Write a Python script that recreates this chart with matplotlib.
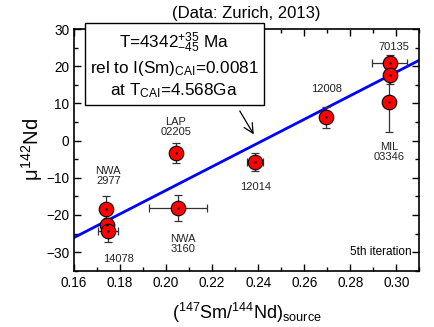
import matplotlib
matplotlib.use("Agg")
import matplotlib.pyplot as plt
from matplotlib.ticker import MultipleLocator
import numpy as np

plt.rcParams['font.family'] = ['Liberation Sans', 'DejaVu Sans']
plt.rcParams['mathtext.fontset'] = 'custom'
plt.rcParams['mathtext.rm'] = 'Liberation Sans'
plt.rcParams['mathtext.it'] = 'Liberation Sans'

# sample data
sm_nd = [0.2971, 0.2971, 0.2970, 0.2694, 0.2387, 0.2043, 0.2051, 0.1739, 0.1742, 0.1749]
sm_nd_err = [0.0075, 0.0, 0.0015, 0.0, 0.0035, 0.0, 0.0127, 0.0, 0.0, 0.0043]
mu142 = [20.8, 17.6, 10.4, 6.2, -5.7, -3.3, -18.1, -18.3, -22.8, -24.2]
mu142_err = [2.3, 2.5, 8.0, 2.8, 2.4, 2.7, 3.5, 3.3, 2.0, 3.2]

labels = ["70135", "12008", "LAP\n02205", "12014", "MIL\n03346",
          "NWA\n2977", "NWA\n3160", "14078"]
label_x = [0.2991, 0.2699, 0.2043, 0.2387, 0.2970, 0.1749, 0.2074, 0.1793]
label_y = [25.2, 13.8, 3.7, -12.5, -3.0, -9.6, -27.8, -31.8]

# isochron line end points
fit_x = [0.16, 0.31]
fit_y = [-26.1, 21.6]

fig = plt.figure(figsize=(4.34, 3.27), dpi=100)
ax = fig.add_axes([0.1705, 0.1722, 0.7956, 0.7391])

ax.plot(fit_x, fit_y, color='#0000ff', lw=2.0, zorder=2)
ax.errorbar(sm_nd, mu142, xerr=sm_nd_err, yerr=mu142_err, fmt='none',
            ecolor='#333333', elinewidth=0.9, capsize=3, capthick=0.9, zorder=3)
ax.plot(sm_nd, mu142, 'o', ms=10.5, mfc='#ff0000', mec='black', mew=0.8, zorder=4)
ax.plot(sm_nd, mu142, '.', ms=1.5, color='black', zorder=5)

for t, lx, ly in zip(labels, label_x, label_y):
    ax.text(lx, ly, t, ha='center', va='center', fontsize=8, color='#222222',
            linespacing=1.05)

ax.text(0.3065, -30, "5th iteration", ha='right', va='center', fontsize=8.5)

ax.annotate("", xy=(0.2387, 1.0), xytext=(0.2314, 8.6),
            arrowprops=dict(arrowstyle='->', color='black', lw=0.9,
                            mutation_scale=17))

ax.set_xlim(0.16, 0.31)
ax.set_ylim(-35, 30)
ax.xaxis.set_major_locator(MultipleLocator(0.02))
ax.xaxis.set_minor_locator(MultipleLocator(0.01))
ax.yaxis.set_major_locator(MultipleLocator(10))
ax.yaxis.set_minor_locator(MultipleLocator(5))
ax.tick_params(which='both', direction='in', top=True, right=True, labelsize=9.8)
ax.tick_params(which='major', length=5, width=1)
ax.tick_params(which='minor', length=3, width=1)
ax.xaxis.set_major_formatter(matplotlib.ticker.FormatStrFormatter('%.2f'))
for s in ax.spines.values():
    s.set_linewidth(1.2)

ax.set_xlabel(r"($^{147}$Sm/$^{144}$Nd)$_{\rm source}$", fontsize=13, labelpad=8)
ax.set_ylabel(r"$\mu^{142}$Nd", fontsize=14.5, labelpad=1)

fig.text(0.568, 0.96, "(Data: Zurich, 2013)", ha='center', va='center', fontsize=12)

# result box, partly above the axes
fig.text(0.401, 0.80,
         "T=4342$^{+35}_{-45}$ Ma\nrel to I(Sm)$_{\\rm CAI}$=0.0081\nat T$_{\\rm CAI}$=4.568Ga",
         ha='center', va='center', fontsize=12.3, linespacing=1.28,
         bbox=dict(boxstyle='square,pad=0.3', fc='white', ec='black', lw=1.0),
         zorder=10)

fig.savefig("out.png", dpi=100)
